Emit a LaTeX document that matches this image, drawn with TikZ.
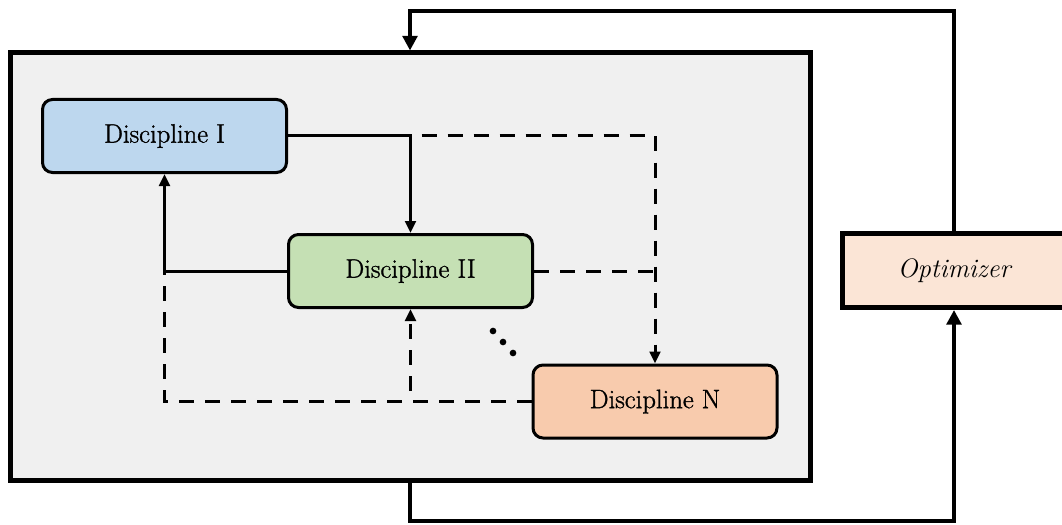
\documentclass[tikz,border=0pt]{standalone}
\usepackage{fontspec}
\newfontfamily\discfont{Latin Modern Roman}[FakeBold=1.2]
\usetikzlibrary{arrows.meta}
\definecolor{sysgray}{HTML}{F0F0F0}
\definecolor{dblue}{HTML}{BDD7EE}
\definecolor{dgreen}{HTML}{C5E0B4}
\definecolor{dorange}{HTML}{F8CBAD}
\definecolor{optfill}{HTML}{FBE5D6}
\begin{document}
\begin{tikzpicture}[x=0.75pt,y=-0.75pt,
  disc/.style={draw=black,line width=2.25pt,rounded corners=7.5pt,minimum width=183pt,minimum height=54.75pt,inner sep=0pt,font=\discfont\fontsize{20}{24}\selectfont},
  sysbox/.style={draw=black,line width=3.75pt,fill=sysgray,minimum width=600pt,minimum height=320.25pt,inner sep=0pt},
  optbox/.style={draw=black,line width=3.75pt,fill=optfill,minimum width=168pt,minimum height=55.5pt,inner sep=0pt},
  solidarrow/.style={line width=2.25pt,-{Triangle[length=9pt,width=8pt]}},
  solidline/.style={line width=2.25pt},
  dashline/.style={line width=2.25pt,dash pattern=on 11.25pt off 8.25pt},
  dasharrow/.style={dashline,-{Triangle[length=9pt,width=8pt]}},
  outerarrow/.style={line width=3pt,-{Triangle[length=11pt,width=11pt]}}
]
\useasboundingbox (0,0) rectangle (1062,524);
\clip (0,0) rectangle (1062,524);

\node[sysbox] (sys) at (410,266.5) {};
\node[optbox] (opt) at (954,270.5) {};
\node[font=\fontsize{20}{24}\selectfont\itshape] (optlabel) at (954,270.5) {Optimizer};

\node[disc,fill=dblue] (d1) at (164.5,136) {Discipline I};
\node[disc,fill=dgreen] (d2) at (410.5,271) {Discipline II};
\node[disc,fill=dorange] (dn) at (655,401.5) {Discipline N};

\coordinate (top) at (954,11.5);
\coordinate (bot) at (954,520.5);

% outer loop
\draw[outerarrow] (opt.north) |- (top) -| (sys.north);
\draw[outerarrow] (sys.south) |- (bot) -- (opt.south);

% inner junctions
\coordinate (j1) at (d2.north |- d1.east);
\coordinate (j2) at (dn.north |- d1.east);
\coordinate (j3) at (dn.north |- d2.east);
\coordinate (j4) at (d1.south |- d2.west);
\coordinate (j5) at (d1.south |- dn.west);
\coordinate (j6) at (d2.south |- dn.west);

\draw[solidarrow] (d1.east) -| (d2.north);
\draw[dasharrow,dash phase=11.25pt] (j1) -- (j2) -- (dn.north);
\draw[dashline] (d2.east) -- (j3);
\draw[solidarrow] (d2.west) -| (d1.south);
\draw[dashline] (dn.west) -- (j5) -- (j4);
\draw[dasharrow,dash phase=11.25pt] (j6) -- (d2.south);

% ellipsis dots
\fill (493,331) circle (2.5pt);
\fill (503,342) circle (2.5pt);
\fill (513,353) circle (2.5pt);
\end{tikzpicture}
\end{document}
